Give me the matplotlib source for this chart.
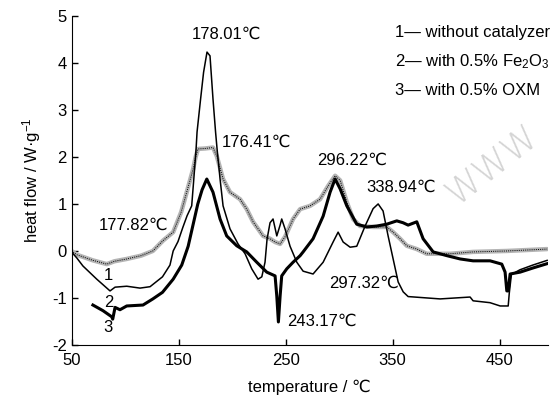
import numpy as np
import matplotlib
matplotlib.use('Agg')
import matplotlib.pyplot as plt

plt.rcParams['font.family'] = ['Liberation Sans Narrow', 'Liberation Sans', 'DejaVu Sans']
plt.rcParams['mathtext.fontset'] = 'custom'
plt.rcParams['mathtext.rm'] = 'Liberation Sans'
plt.rcParams['mathtext.it'] = 'Liberation Sans'
plt.rcParams['font.size'] = 12
plt.rcParams['axes.unicode_minus'] = False

# curve 1 - without catalyzer (dotted band)
t1 = [50, 55, 60, 70, 83, 90, 101.6, 115, 126, 135.5, 145, 152.5, 158.5, 163.6, 166, 168.2,
      175, 182.2, 185.7, 191.6, 198.1, 207.5, 213.7, 219.6, 229, 235.5, 240.2, 244.9, 249.5,
      257, 263.6, 273, 282.2, 289.7, 296.3, 301, 307.2, 313.1, 319.6, 331.8, 344.6, 350.5,
      357, 363.3, 372.6, 381.9, 403.7, 425.2, 456.7, 494.4]
h1 = [0.0, -0.08, -0.12, -0.2, -0.28, -0.22, -0.17, -0.1, 0.0, 0.22, 0.4, 0.83, 1.32, 1.74, 2.0, 2.17,
      2.18, 2.2, 2.02, 1.53, 1.25, 1.1, 0.89, 0.62, 0.32, 0.26, 0.19, 0.15, 0.3,
      0.68, 0.89, 0.96, 1.1, 1.38, 1.6, 1.5, 1.04, 0.68, 0.53, 0.51, 0.51, 0.4,
      0.26, 0.11, 0.04, -0.06, -0.06, -0.02, 0.0, 0.04]

# curve 2 - with 0.5% Fe2O3 (thin line)
t2 = [50, 55, 60.7, 73.6, 86, 90.7, 101.6, 114, 123.4, 135, 142, 145, 149.5, 154, 158, 162.3,
      164.5, 166.4, 167.3, 170.6, 173.4, 176.6, 179.4, 182.2, 184.6, 186, 188.8, 191.6, 198.1,
      205.6, 212.2, 218.4, 224.3, 227.8, 230.8, 232.7, 235.5, 238.3, 241.8, 244.9, 246.4,
      249.5, 254.2, 260.5, 266.4, 275.7, 285.1, 294.4, 299.1, 303.8, 310.3, 316.5, 324.3,
      331.8, 336.5, 341.1, 345.8, 350.5, 355.2, 359.9, 364.5, 394.4, 422.4, 425.2, 441,
      450.5, 458, 459, 461, 469, 481, 494.4]
h2 = [-0.02, -0.15, -0.32, -0.6, -0.85, -0.77, -0.75, -0.79, -0.76, -0.55, -0.3, 0.0, 0.2, 0.5, 0.75, 0.96,
      1.6, 2.17, 2.53, 3.23, 3.8, 4.23, 4.15, 3.23, 2.53, 2.17, 1.53, 0.96, 0.47,
      0.15, -0.06, -0.38, -0.6, -0.55, -0.24, 0.25, 0.6, 0.68, 0.32, 0.55, 0.68,
      0.47, 0.1, -0.24, -0.43, -0.49, -0.24, 0.19, 0.4, 0.19, 0.08, 0.1, 0.53,
      0.9, 1.0, 0.85, 0.32, -0.17, -0.66, -0.87, -0.97, -1.02, -0.98, -1.06, -1.1,
      -1.17, -1.17, -0.9, -0.5, -0.4, -0.3, -0.2]

# curve 3 - with 0.5% OXM (thick line)
t3 = [70, 79.4, 87.6, 88.5, 90.7, 95.3, 101.6, 116.8, 126, 135, 145, 153, 159, 163, 168, 172,
      176.4, 182.2, 188.8, 195, 204.4, 213.7, 223.1, 232.4, 240.2, 241.8, 243.3, 244.9, 246.4,
      251.1, 257, 263.6, 266.4, 275.7, 285.1, 291.6, 296.3, 301, 307.2, 316.5, 325.9, 335.2,
      344.6, 353.9, 359.8, 364.5, 372.6, 378.5, 387.9, 400.7, 413.1, 425.2, 441.1, 452,
      455.1, 456.7, 458, 459.8, 469.2, 481.4, 494.4]
h3 = [-1.15, -1.27, -1.4, -1.45, -1.2, -1.25, -1.17, -1.15, -1.02, -0.88, -0.6, -0.3, 0.1, 0.5, 1.0, 1.3,
      1.53, 1.25, 0.68, 0.32, 0.11, -0.02, -0.24, -0.45, -0.53, -0.96, -1.51, -0.96, -0.53,
      -0.38, -0.24, -0.1, -0.02, 0.26, 0.74, 1.25, 1.53, 1.32, 0.96, 0.57, 0.51, 0.53,
      0.57, 0.64, 0.6, 0.55, 0.62, 0.26, -0.02, -0.1, -0.17, -0.21, -0.21, -0.28,
      -0.45, -0.85, -0.85, -0.49, -0.45, -0.36, -0.27]

peak_labels = ['178.01\u2103', '176.41\u2103', '177.82\u2103', '296.22\u2103',
               '338.94\u2103', '297.32\u2103', '243.17\u2103']
legend_lines = ['1\u2014 without catalyzer', '2\u2014 with 0.5% Fe$_2$O$_3$', '3\u2014 with 0.5% OXM']

fig = plt.figure(figsize=(5.5, 3.97), dpi=100)
ax = fig.add_axes([0.13, 0.131, 0.866, 0.829])

ax.plot(t1, h1, color='#b4b4b4', lw=3.2, solid_capstyle='round')
ax.plot(t1, h1, color='black', lw=0.7, linestyle=(0, (1, 1.2)))
ax.plot(t2, h2, color='black', lw=1.1)
ax.plot(t3, h3, color='black', lw=2.2)

ax.set_xlim(50, 495)
ax.set_ylim(-2, 5)
ax.set_xticks([50, 150, 250, 350, 450])
ax.set_yticks(range(-2, 6))
ax.tick_params(direction='in', length=4, width=1, labelsize=12)
ax.tick_params(axis='x', pad=6)
ax.spines['top'].set_visible(False)
ax.spines['right'].set_visible(False)

ax.set_xlabel('temperature / \u2103', fontsize=12, labelpad=8)
ax.set_ylabel('heat flow / W\u00b7g$^{-1}$', fontsize=12, labelpad=6)

ax.text(194.4, 4.61, peak_labels[0], ha='center', va='center')
ax.text(190.4, 2.31, peak_labels[1], ha='left', va='center')
ax.text(75, 0.54, peak_labels[2], ha='left', va='center')
ax.text(279.2, 1.92, peak_labels[3], ha='left', va='center')
ax.text(325.9, 1.35, peak_labels[4], ha='left', va='center')
ax.text(291, -0.68, peak_labels[5], ha='left', va='center')
ax.text(251.1, -1.5, peak_labels[6], ha='left', va='center')

ax.text(84.4, -0.53, '1', ha='center', va='center')
ax.text(84.4, -1.09, '2', ha='center', va='center')
ax.text(84.4, -1.62, '3', ha='center', va='center')

for i, s in enumerate(legend_lines):
    ax.text(352.5, 4.55 - 0.62 * i, s, ha='left', va='baseline')

fig.text(0.895, 0.585, 'WWW', fontsize=26, color='#d4d4d4', rotation=38,
         ha='center', va='center', family='DejaVu Sans', fontweight='light', zorder=0)

fig.savefig('out.png', dpi=100)
